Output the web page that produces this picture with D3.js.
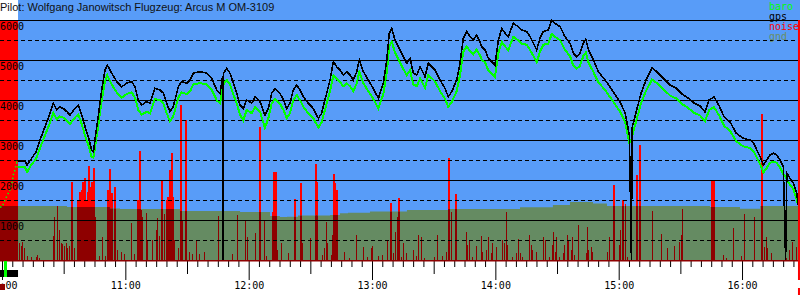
<!DOCTYPE html>
<html>
<head>
<meta charset="utf-8">
<script src="https://cdn.jsdelivr.net/npm/d3@7"></script>
<style>
  body { margin: 0; background: #fff; }
  svg { display: block; }
</style>
</head>
<body>
<svg id="chart" width="800" height="300"></svg>
<script>
// ---------- data: minutes after 10:00, metres ----------
var flightMinutes = [7.8, 11.2, 12.2, 14.4, 16.5, 18.5, 20.9, 23.4, 25.0, 26.6, 28.2, 29.8, 31.5, 33.1, 35.5, 37.1, 38.8, 40.4, 42.0, 43.6,
  44.5, 45.2, 46.8, 48.5, 50.1, 51.2, 53.4, 55.8, 58.2, 60.7, 63.1, 64.7, 66.3, 68.0, 70.4, 72.0, 74.4, 76.9, 78.5, 80.1,
  81.7, 83.3, 85.8, 87.4, 89.9, 91.5, 93.1, 96.3, 99.6, 102.0, 104.5, 106.1, 107.3, 107.5, 107.7, 109.3, 110.9, 112.5, 114.2, 115.8,
  117.4, 119.0, 121.5, 123.1, 125.5, 127.9, 129.6, 131.2, 132.8, 135.2, 136.9, 138.5, 140.1, 141.7, 143.4, 145.0, 146.6, 149.0, 151.4, 153.9,
  155.5, 157.1, 159.6, 161.2, 162.8, 164.4, 166.0, 167.7, 169.3, 170.9, 172.6, 173.8, 175.8, 178.2, 180.6, 183.1, 185.5, 187.2, 188.4, 189.6,
  191.2, 193.6, 195.2, 196.9, 198.5, 200.1, 201.8, 203.4, 205.8, 207.4, 209.1, 210.7, 213.1, 215.5, 217.1, 218.8, 221.2, 222.8, 224.4, 226.1,
  227.7, 229.3, 230.9, 232.5, 233.4, 235.0, 236.6, 238.2, 239.8, 241.5, 243.1, 244.7, 246.3, 248.7, 251.2, 252.8, 255.3, 256.9, 258.5, 260.1,
  261.7, 263.3, 265.8, 267.4, 269.0, 271.5, 273.9, 276.3, 277.9, 279.6, 281.2, 282.8, 284.0, 285.3, 287.7, 290.1, 293.4, 296.8, 300.7, 303.1,
  305.2, 306.2, 306.5, 308.5, 310.9, 313.3, 316.2, 318.7, 321.6, 325.0, 327.9, 330.8, 333.8, 336.7, 339.6, 342.0, 344.0, 346.4, 348.9, 351.3,
  354.2, 357.1, 360.7, 364.0, 365.6, 367.2, 368.8, 370.4, 372.0, 373.6, 375.3, 376.9, 378.5, 380.1, 381.2, 381.8, 383.4, 385.0, 386.6, 387.4];

var gps = [2480, 2480, 2375, 2540, 2700, 3000, 3330, 3670, 3920, 3750, 3825, 3790, 3710, 3625, 3790, 3875, 3625, 3330, 3080, 2750,
  2700, 3000, 3580, 4250, 4750, 4875, 4670, 4460, 4330, 4420, 4460, 4330, 4000, 3875, 3960, 3920, 4290, 4250, 4170, 3920,
  3710, 3830, 4330, 4460, 4420, 4500, 4670, 4710, 4670, 4540, 4250, 4170, 4600, 0, 4670, 4790, 4670, 4420, 4170, 3875,
  3790, 4000, 3920, 4080, 3960, 3625, 3790, 4170, 4290, 4170, 4000, 3790, 3920, 4250, 4375, 4250, 4080, 3920, 3790, 3540,
  3670, 4000, 4500, 4960, 4830, 4750, 4625, 4710, 4625, 4500, 4710, 5000, 4710, 4500, 4290, 4040, 4420, 5000, 5670, 5790,
  5500, 5250, 5080, 4920, 5040, 4670, 4625, 4830, 4580, 4920, 4830, 4750, 4500, 4290, 4080, 4210, 4500, 4920, 5540, 5710,
  5580, 5500, 5625, 5460, 5330, 5250, 5040, 4960, 4875, 5500, 5790, 5670, 5580, 5920, 5830, 5750, 5710, 5580, 5420, 5250,
  5540, 5710, 5750, 6000, 5920, 5830, 5580, 5420, 5170, 5080, 5170, 5420, 5520, 5250, 5000, 4710, 4500, 4250, 3950, 3675,
  3125, 0, 3300, 3700, 4175, 4500, 4800, 4700, 4550, 4375, 4300, 4150, 4050, 3925, 3850, 3700, 4000, 4075, 3850, 3575,
  3450, 3175, 3040, 3000, 2920, 2750, 2580, 2375, 2500, 2625, 2670, 2625, 2500, 2330, 0, 2170, 2040, 1920, 1670, 1375];

var baro = [2320, 2320, 2200, 2390, 2520, 2800, 3110, 3440, 3680, 3520, 3590, 3560, 3480, 3400, 3560, 3640, 3400, 3110, 2880, 2580,
  2560, 2800, 3350, 3990, 4460, 4620, 4390, 4190, 4060, 4150, 4190, 4060, 3750, 3630, 3710, 3670, 4030, 3990, 3910, 3670,
  3470, 3590, 4060, 4190, 4150, 4220, 4390, 4420, 4390, 4260, 3990, 3910, 4300, 4350, 4390, 4500, 4390, 4150, 3910, 3630,
  3490, 3750, 3670, 3830, 3710, 3300, 3550, 3910, 4030, 3910, 3750, 3550, 3670, 3990, 4120, 3990, 3830, 3670, 3550, 3310,
  3440, 3750, 4220, 4610, 4540, 4460, 4340, 4420, 4340, 4220, 4420, 4700, 4420, 4220, 4030, 3790, 4150, 4700, 5340, 5460,
  5180, 4940, 4780, 4620, 4740, 4390, 4340, 4540, 4300, 4620, 4540, 4460, 4220, 4030, 3830, 3950, 4220, 4620, 5210, 5340,
  5220, 5140, 5260, 5120, 5010, 4940, 4740, 4660, 4580, 5180, 5450, 5340, 5250, 5580, 5490, 5410, 5380, 5250, 5100, 4940,
  5210, 5380, 5410, 5650, 5580, 5490, 5250, 5100, 4860, 4780, 4860, 5100, 5190, 4940, 4700, 4440, 4250, 4000, 3710, 3450,
  2920, 3020, 3090, 3470, 3920, 4230, 4510, 4420, 4280, 4110, 4040, 3900, 3800, 3680, 3610, 3470, 3750, 3820, 3610, 3350,
  3230, 2970, 2840, 2800, 2720, 2560, 2400, 2190, 2300, 2430, 2460, 2430, 2310, 2150, 2080, 2000, 1880, 1770, 1500, 1375];

// launch phase, only baro recorded
var towMinutes = [-0.97, 0, 1.46, 2.58, 3.55, 4.72, 5.5, 6.3, 7.15, 7.8];
var towBaro = [1325, 1325, 1500, 1625, 1710, 1875, 2125, 2250, 2425, 2320];

var groundMinutes = [-0.97, 31.6, 52.5, 57.4, 86.6, 115.8, 130.4, 135.2, 138.7, 144.0, 159.6, 164.4, 168.3, 179.0, 197.0,
  217.0, 252.0, 268.0, 276.3, 287.5, 294.3, 344.4, 359.0, 368.8, 388.2];
var groundElev = [1350, 1325, 1290, 1275, 1225, 1200, 1100, 1075, 1080, 1110, 1125, 1170, 1180, 1210, 1250,
  1275, 1320, 1375, 1450, 1410, 1350, 1325, 1280, 1350, 1350];

var noiseMinutes = [8.8, 9.6, 10.4, 11.2, 12.8, 14.4, 16.9, 17.7, 18.5, 25.3, 25.8, 27.4, 28.2, 29.0, 29.8, 30.6, 31.5, 32.3, 33.1, 33.9,
  34.7, 35.5, 37.1, 37.9, 38.8, 39.6, 40.4, 41.2, 42.0, 42.5, 43.2, 43.6, 44.1, 44.9, 45.6, 47.7, 49.3, 50.6, 51.7, 52.5,
  53.4, 55.0, 56.6, 58.2, 59.8, 63.1, 64.7, 66.3, 67.1, 68.0, 68.7, 70.4, 71.2, 73.6, 75.3, 76.0, 76.9, 78.0, 79.3, 80.1,
  80.9, 81.7, 82.6, 83.3, 84.2, 86.1, 87.0, 87.3, 88.1, 89.5, 90.2, 91.5, 92.9, 94.7, 96.3, 98.8, 105.6, 112.5, 115.0, 118.7,
  119.8, 123.6, 125.5, 128.0, 128.8, 131.7, 132.3, 133.2, 134.4, 136.4, 139.8, 142.5, 145.6, 146.6, 150.3, 152.8, 153.4, 153.9, 156.3, 157.1,
  158.3, 158.7, 160.4, 161.2, 161.7, 162.2, 162.8, 163.3, 166.9, 169.3, 172.9, 176.3, 178.2, 179.9, 180.6, 183.6, 185.5, 187.9, 189.4, 190.7,
  191.5, 192.5, 193.3, 193.6, 194.7, 195.7, 197.2, 200.4, 202.0, 203.0, 204.2, 205.8, 210.6, 212.3, 214.7, 216.3, 217.6, 219.1, 220.9, 226.1,
  226.9, 227.7, 229.3, 231.2, 233.7, 234.2, 235.8, 237.1, 238.2, 239.0, 240.7, 243.9, 244.7, 245.5, 246.0, 248.7, 250.4, 251.7, 252.3, 253.6,
  256.9, 257.7, 258.5, 260.1, 263.7, 264.7, 266.6, 268.2, 268.7, 269.4, 270.2, 271.5, 273.4, 273.9, 275.5, 276.0, 277.2, 277.9, 278.8, 280.9,
  284.4, 284.9, 285.7, 286.9, 287.7, 295.0, 295.8, 297.7, 300.7, 301.3, 302.0, 302.6, 303.4, 304.7, 309.1, 310.4, 316.9, 320.9, 324.2, 327.4,
  329.8, 330.7, 331.5, 345.6, 346.3, 351.4, 352.6, 356.1, 359.9, 361.5, 366.3, 369.6, 371.2, 372.0, 372.8, 374.4, 381.8, 383.4, 385.0, 386.6];

var noise = [425, 350, 450, 300, 100, 80, 80, 120, 60, 600, 1080, 1350, 750, 420, 400, 350, 420, 300, 350, 1960,
  400, 300, 1500, 1710, 1750, 1960, 2040, 1500, 1710, 2350, 1830, 1960, 1500, 2290, 1080, 100, 580, 100, 1750, 2270,
  1670, 1830, 250, 200, 150, 925, 150, 1500, 2730, 1250, 1080, 1170, 500, 500, 750, 1040, 600, 2000, 1150, 1500,
  1580, 2250, 2670, 1580, 500, 300, 3375, 3875, 1000, 3500, 500, 200, 150, 500, 150, 200, 1100, 150, 1125, 1000,
  580, 670, 3330, 1000, 100, 1210, 2210, 2210, 250, 420, 170, 1520, 1920, 420, 540, 2400, 1960, 330, 125, 290,
  960, 420, 125, 625, 2150, 1920, 1750, 920, 210, 40, 625, 330, 80, 290, 350, 100, 125, 475, 1420, 170,
  710, 1080, 1540, 790, 80, 420, 170, 250, 100, 625, 570, 40, 80, 625, 100, 210, 2540, 1210, 1650, 710,
  375, 500, 80, 350, 600, 210, 250, 570, 170, 420, 330, 500, 420, 1210, 375, 80, 170, 530, 170, 80,
  625, 375, 250, 210, 580, 500, 80, 375, 710, 210, 580, 80, 170, 375, 625, 500, 250, 580, 125, 875,
  170, 830, 250, 330, 210, 210, 580, 1875, 375, 750, 1500, 250, 1400, 80, 2125, 2875, 1225, 650, 290, 350,
  460, 625, 1265, 1980, 1980, 125, 40, 800, 100, 1150, 1080, 3650, 330, 580, 290, 170, 40, 250, 460, 330];

var altTicks = [1000, 2000, 3000, 4000, 5000, 6000];
var altHalfTicks = [500, 1500, 2500, 3500, 4500, 5500];
var legendNames = ["baro", "gps", "noise", "gnd"];
var towPhase = [-0.97, 7.8];
var launchMinute = 1.46;
var landingMinute = 387.7;

// ---------- setup ----------
var width = 800;
var colors = { sky: "#589cf8", ground: "#658b62", red: "#ff0000", darkRed: "#8e0000",
               baro: "#00ff00", gps: "#000000" };
var legendColors = { baro: colors.baro, gps: colors.gps, noise: colors.red, gnd: "#6b8f66" };
var mono = "'DejaVu Sans Mono', monospace";

var t0 = new Date(2000, 0, 1, 10, 0, 0);
function toTime(m) { return new Date(t0.getTime() + m * 60000); }

var x = d3.scaleTime().domain([toTime(-0.97), toTime(388.2)]).range([0, width]);
var y = d3.scaleLinear().domain([0, 6500]).range([260, 0]);

var svg = d3.select("#chart");

var flight = flightMinutes.map(function(m, i) { return { t: toTime(m), gps: gps[i], baro: baro[i] }; });
var tow = towMinutes.map(function(m, i) { return { t: toTime(m), baro: towBaro[i] }; });
var ground = groundMinutes.map(function(m, i) { return { t: toTime(m), v: groundElev[i] }; });
var noiseData = noiseMinutes.map(function(m, i) { return { t: toTime(m), v: noise[i] }; });

// background
svg.append("rect").attr("x", 0).attr("y", 0).attr("width", width).attr("height", y(0))
   .attr("fill", colors.sky);
svg.append("rect").attr("x", 0).attr("y", 0)
   .attr("width", x(toTime(towPhase[1])) - x(toTime(towPhase[0]))).attr("height", y(6000))
   .attr("fill", "#fff");

// tow band and noise (bright part)
function drawTowBand(g, fill) {
  g.append("rect")
   .attr("x", x(toTime(towPhase[0])))
   .attr("y", y(6000))
   .attr("width", x(toTime(towPhase[1])) - x(toTime(towPhase[0])))
   .attr("height", y(0) - y(6000))
   .attr("fill", fill);
}
function drawNoise(g, fill) {
  g.selectAll("rect.n")
   .data(noiseData)
   .enter().append("rect")
   .attr("class", "n")
   .attr("x", function(d) { return Math.round(x(d.t)) - 1; })
   .attr("y", function(d) { return y(d.v); })
   .attr("width", function(d) { return d.v > 1400 ? 2 : 1; })
   .attr("height", function(d) { return y(0) - y(d.v); })
   .attr("fill", fill)
   .attr("shape-rendering", "crispEdges");
}

var upper = svg.append("g");
drawTowBand(upper, colors.red);
drawNoise(upper, colors.red);

// ground
var groundArea = d3.area()
  .x(function(d) { return x(d.t); })
  .y0(y(0))
  .y1(function(d) { return y(d.v); })
  .curve(d3.curveStepAfter);

svg.append("clipPath").attr("id", "gndclip")
   .append("path").attr("d", groundArea(ground));
svg.append("path").attr("d", groundArea(ground)).attr("fill", colors.ground);

// parts inside the ground are dark red
var lower = svg.append("g").attr("clip-path", "url(#gndclip)");
drawTowBand(lower, colors.darkRed);
drawNoise(lower, colors.darkRed);

// ---------- grid ----------
svg.append("g").selectAll("line")
   .data(altTicks).enter().append("line")
   .attr("x1", 0).attr("x2", width)
   .attr("y1", function(d) { return y(d) + 0.5; })
   .attr("y2", function(d) { return y(d) + 0.5; })
   .attr("stroke", "#000");
svg.append("g").selectAll("line")
   .data(altHalfTicks).enter().append("line")
   .attr("x1", 0).attr("x2", width)
   .attr("y1", function(d) { return y(d) + 0.5; })
   .attr("y2", function(d) { return y(d) + 0.5; })
   .attr("stroke", "#000")
   .attr("stroke-dasharray", "4,3");

// ---------- lines ----------
svg.append("path")
   .datum(tow)
   .attr("d", d3.line().x(function(d) { return x(d.t); }).y(function(d) { return y(d.baro); }))
   .attr("fill", "none").attr("stroke", colors.baro).attr("stroke-width", 1.5)
   .attr("stroke-dasharray", "1.5,2.5");

svg.append("path")
   .datum(flight)
   .attr("d", d3.line().x(function(d) { return x(d.t); }).y(function(d) { return y(d.baro); }))
   .attr("fill", "none").attr("stroke", colors.baro).attr("stroke-width", 2)
   .attr("shape-rendering", "crispEdges");

svg.append("path")
   .datum(flight)
   .attr("d", d3.line().x(function(d) { return x(d.t); }).y(function(d) { return y(d.gps); }))
   .attr("fill", "none").attr("stroke", colors.gps).attr("stroke-width", 1.6)
   .attr("shape-rendering", "crispEdges");

// altitude labels
svg.append("g").selectAll("text")
   .data(altTicks).enter().append("text")
   .attr("x", 0)
   .attr("y", function(d) { return y(d) + 10; })
   .attr("font-family", mono).attr("font-size", 10)
   .attr("fill", "#000")
   .text(function(d) { return d; });

// ---------- time axis ----------
var axis = d3.axisBottom(x)
  .ticks(d3.timeMinute.every(5))
  .tickSizeInner(6)
  .tickSizeOuter(0)
  .tickFormat(function(d) { return d.getMinutes() === 0 ? d3.timeFormat("%H:%M")(d) : ""; });

var gAxis = svg.append("g").attr("transform", "translate(0," + y(0) + ")").call(axis);
gAxis.select(".domain").remove();
gAxis.selectAll(".tick line")
     .attr("stroke", "#000")
     .attr("y2", function(d) {
       var m = d.getMinutes();
       return m === 0 ? 20 : (m === 30 ? 14 : 7);
     });
gAxis.selectAll(".tick text")
     .attr("y", 22)
     .attr("font-family", mono)
     .attr("font-size", 10)
     .attr("fill", "#000");

svg.append("rect").attr("x", 0).attr("y", y(0)).attr("width", width).attr("height", 1.5)
   .attr("fill", colors.darkRed);

// launch / landing markers
svg.append("rect")
   .attr("x", x(toTime(towPhase[0]))).attr("y", 270)
   .attr("width", x(toTime(towPhase[1])) - x(toTime(towPhase[0]))).attr("height", 7)
   .attr("fill", "#000");
svg.append("rect")
   .attr("x", x(toTime(launchMinute)) - 1).attr("y", y(0) + 1)
   .attr("width", 3).attr("height", 16)
   .attr("fill", colors.baro);
svg.append("rect")
   .attr("x", x(toTime(towPhase[0]))).attr("y", 284)
   .attr("width", 5).attr("height", 6)
   .attr("fill", colors.darkRed);
svg.append("rect")
   .attr("x", x(toTime(landingMinute)) - 1).attr("y", y(6000))
   .attr("width", 2).attr("height", 280 - y(6000))
   .attr("fill", colors.red);
svg.append("rect")
   .attr("x", x(toTime(landingMinute)) - 1).attr("y", 288)
   .attr("width", 2).attr("height", 7)
   .attr("fill", colors.red);

// ---------- title & legend ----------
svg.append("text")
   .attr("x", 0).attr("y", 11)
   .attr("font-family", "'Liberation Sans', Arial, sans-serif")
   .attr("font-size", 11)
   .attr("fill", "#111")
   .text("Pilot: Wolfgang Janowitsch Flugzeug: Arcus M OM-3109");

svg.append("g").selectAll("text")
   .data(legendNames).enter().append("text")
   .attr("x", 769)
   .attr("y", function(d, i) { return 10 + i * 10; })
   .attr("font-family", mono).attr("font-size", 10)
   .attr("fill", function(d) { return legendColors[d]; })
   .text(function(d) { return d; });
</script>
</body>
</html>
